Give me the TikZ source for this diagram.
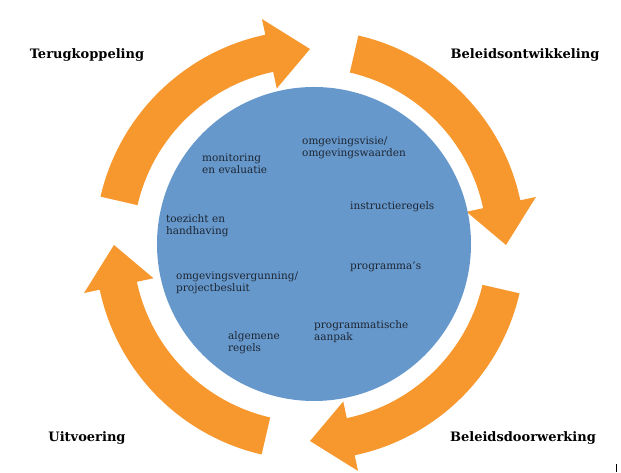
\documentclass[tikz,border=0pt]{standalone}
\usepackage{fontspec}
\usetikzlibrary{calc}
\setmainfont{DejaVu Serif}
\begin{document}
\begin{tikzpicture}[x=1pt,y=1pt,
  lab/.style={font=\fontsize{13}{15}\selectfont\bfseries,text=black},
  inn/.style={font=\fontsize{10.5}{12}\selectfont,text=textc,align=left,anchor=west,inner sep=0},
  arr/.style={fill=orng,draw=none}]
\definecolor{orng}{HTML}{F7982F}
\definecolor{blu}{HTML}{6798CB}
\definecolor{textc}{HTML}{1C2633}
\useasboundingbox (0,0) rectangle (621,473);
\coordinate (C) at (310,228);
\def\ri{177}\def\ro{215}\def\hi{160}\def\ho{231}\def\rm{196}
\foreach \r in {0,90,180,270}{
  \pgfmathsetmacro{\aa}{77-\r}
  \pgfmathsetmacro{\ab}{12-\r}
  \pgfmathsetmacro{\ac}{0-\r}
  \fill[arr] ($(C)+(\aa:\ro)$) arc[start angle=\aa,end angle=\ab,radius=\ro]
    -- ($(C)+(\ab:\ho)$) -- ($(C)+(\ac:\rm)$) -- ($(C)+(\ab:\hi)$) -- ($(C)+(\ab:\ri)$)
    arc[start angle=\ab,end angle=\aa,radius=\ri] -- cycle;
}
\node[circle,fill=blu,minimum size=314,inner sep=0] (circ) at (314,229) {};
\node[inn] (t1) at (302,325) {omgevingsvisie/\\omgevingswaarden};
\node[inn] (t2) at (202,309) {monitoring\\en evaluatie};
\node[inn] (t3) at (350,266) {instructieregels};
\node[inn] (t4) at (166,247) {toezicht en\\handhaving};
\node[inn] (t5) at (350,206) {programma's};
\node[inn] (t6) at (176,190) {omgevingsvergunning/\\projectbesluit};
\node[inn] (t7) at (314,141) {programmatische\\aanpak};
\node[inn] (t8) at (228,130) {algemene\\regels};
\node[lab] (l1) at (87,418) {Terugkoppeling};
\node[lab] (l2) at (525,418) {Beleidsontwikkeling};
\node[lab] (l3) at (87,35) {Uitvoering};
\node[lab] (l4) at (523,35) {Beleidsdoorwerking};
\coordinate (m1) at (616,1); \coordinate (m2) at (616,9);
\draw[line width=0.6pt] (m1) -- (m2);
\end{tikzpicture}
\end{document}
